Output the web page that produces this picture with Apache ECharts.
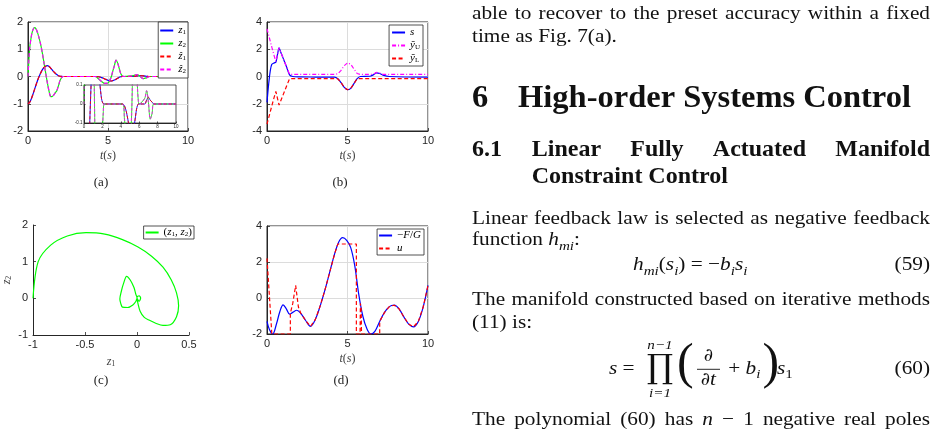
<!DOCTYPE html>
<html>
<head>
<meta charset="utf-8">
<script src="https://cdn.jsdelivr.net/npm/echarts@6/dist/echarts.min.js"></script>
<style>
  html, body { margin: 0; padding: 0; background: #fff; }
  #fig { width: 937px; height: 429px; }
</style>
</head>
<body>
<div id="fig"></div>
<script>
// (a) / (c): states z1, z2 (estimates overlap them)
const tA = [0, 0.1, 0.2, 0.3, 0.4, 0.5, 0.6, 0.7, 0.8, 0.9, 1.0, 1.1, 1.2, 1.3, 1.4, 1.5, 1.6, 1.7, 1.8, 1.9, 2.0, 2.1, 2.2,
  4.2, 4.4, 4.6, 4.8, 5.0, 5.1, 5.2, 5.3, 5.4, 5.5, 5.6, 5.7, 5.8, 5.9, 6.0, 6.6, 6.8, 7.0, 7.2, 7.4, 7.6, 10];
const z1 = [-1, -0.95, -0.83, -0.67, -0.49, -0.31, -0.14, 0.01, 0.14, 0.25, 0.33, 0.38, 0.40, 0.38, 0.32, 0.25, 0.18, 0.12, 0.07, 0.03, 0.01, 0.002, 0,
  0, -0.01, -0.04, -0.09, -0.14, -0.155, -0.165, -0.15, -0.13, -0.1, -0.065, -0.03, -0.01, 0, 0, 0, 0.02, 0.035, 0.02, 0.01, 0, 0];
const z2 = [0, 1.0, 1.45, 1.7, 1.79, 1.75, 1.6, 1.4, 1.15, 0.85, 0.5, 0.15, -0.2, -0.5, -0.72, -0.74, -0.68, -0.6, -0.52, -0.35, -0.15, -0.04, 0,
  0, -0.08, -0.18, -0.25, -0.24, -0.15, -0.02, 0.2, 0.4, 0.6, 0.5, 0.3, 0.1, 0.02, 0, 0.03, 0.07, 0.01, -0.08, -0.05, 0, 0];

// (b): s and its bounds
const tB = [0, 0.1, 0.2, 0.3, 0.45, 0.55, 0.65, 0.75, 0.85, 1.0, 1.2, 1.4, 1.6, 2.0, 3.0, 4.2, 4.4, 4.6, 4.8, 5.0, 5.2, 5.4, 5.6, 5.8, 6.4, 6.6, 6.8, 7.0, 7.2, 7.6, 10];
const sB = [-1.9, -0.6, 0.4, 0.9, 1.0, 1.05, 1.6, 2.1, 1.8, 1.35, 0.75, 0.12, 0.0, -0.03, -0.04, -0.05, -0.17, -0.45, -0.8, -0.97, -0.87, -0.52, -0.16, 0.0, 0.02, 0.12, 0.27, 0.22, 0.1, 0.0, -0.04];
const yU = [3.5, 3.05, 2.6, 2.15, 1.5, 1.1, 1.6, 2.1, 1.8, 1.35, 0.75, 0.16, 0.15, 0.15, 0.15, 0.15, 0.2, 0.45, 0.8, 1.0, 0.9, 0.55, 0.22, 0.15, 0.15, 0.18, 0.3, 0.25, 0.16, 0.15, 0.15];
const yL = [-3.5, -3.05, -2.6, -2.15, -1.5, -1.1, -1.6, -2.1, -1.8, -1.35, -0.75, -0.16, -0.15, -0.15, -0.15, -0.15, -0.17, -0.45, -0.8, -0.97, -0.87, -0.52, -0.16, -0.15, -0.15, -0.15, -0.15, -0.15, -0.15, -0.15, -0.15];

// (d): -F/G and control u
const tD = [0, 0.15, 0.35, 0.6, 0.8, 1.0, 1.2, 1.4, 1.6, 1.85, 2.1, 2.4, 2.7, 3.0, 3.3, 3.6, 3.9, 4.2, 4.45, 4.7,
  4.95, 5.2, 5.45, 5.7, 5.95, 6.2, 6.45, 6.7, 7.0, 7.3, 7.6, 7.9, 8.2, 8.5, 8.8, 9.1, 9.4, 9.7, 10];
const fg = [-1.3, -1.75, -2.0, -1.4, -0.75, -0.38, -0.6, -0.9, -0.8, -0.68, -0.85, -1.25, -1.58, -1.2, -0.45, 0.45, 1.45, 2.45, 3.1, 3.35,
  3.2, 2.8, 1.8, 0.2, -1.0, -1.7, -2.0, -1.85, -1.3, -0.8, -0.48, -0.4, -0.6, -1.05, -1.45, -1.6, -1.3, -0.5, 0.7];
const uT = [0, 0.3, 1.45, 1.45, 1.6, 1.78, 1.95, 2.1, 2.4, 2.7, 3.0, 3.3, 3.6, 3.9, 4.2, 4.4, 5.55, 5.55, 5.78, 5.8,
  5.85, 5.87, 7.0, 7.0, 7.3, 7.6, 7.9, 8.2, 8.5, 8.8, 9.1, 9.4, 9.7, 10];
const uV = [2.2, -2.0, -2.0, -0.85, -0.3, 0.7, -0.5, -0.85, -1.25, -1.58, -1.2, -0.45, 0.45, 1.45, 2.45, 3.0, 3.0, -2.0, -2.0, -0.3,
  -0.6, -2.0, -2.0, -1.3, -0.8, -0.48, -0.4, -0.6, -1.05, -1.45, -1.6, -1.3, -0.5, 0.7];

const BLUE = '#0000ff', GREEN = '#00ff00', RED = '#ff0000', MAG = '#ff00ff', INK = '#262626';
const SERIF = '"Liberation Serif", "DejaVu Serif", serif';

const pairs = (xs, ys) => xs.map((x, i) => [x, ys[i]]);

function line(name, ax, data, color, type, extra) {
  return Object.assign({
    name, type: 'line', xAxisIndex: ax, yAxisIndex: ax, data, symbol: 'none', z: 3,
    lineStyle: { color, width: 1.2, type }, itemStyle: { color }
  }, extra || {});
}

const mathRich = {
  i: { fontFamily: SERIF, fontStyle: 'italic', fontSize: 11, lineHeight: 11, color: '#000' },
  r: { fontFamily: SERIF, fontSize: 11, lineHeight: 11, color: '#000' },
  b: { fontFamily: SERIF, fontSize: 7, lineHeight: 4, verticalAlign: 'bottom', color: '#000' }
};
const nameRich = {
  i: { fontFamily: SERIF, fontStyle: 'italic', fontSize: 12, color: '#404040' },
  r: { fontFamily: SERIF, fontSize: 12, color: '#404040' },
  b: { fontFamily: SERIF, fontSize: 8, lineHeight: 5, verticalAlign: 'bottom', color: '#404040' }
};
const labels = {
  z1: '{i|z}{b|1}', z2: '{i|z}{b|2}', zh1: '{i|ẑ}{b|1}', zh2: '{i|ẑ}{b|2}',
  s: '{i|s}', yU: '{i|ỹ}{b|U}', yL: '{i|ỹ}{b|L}',
  ph: '{r|(}{i|z}{b|1}{r|, }{i|z}{b|2}{r|)}', fg: '{r|−}{i|F}{r|/}{i|G}', u: '{i|u}'
};

function axis(grid, min, max, interval, opt) {
  opt = opt || {};
  return {
    type: 'value', gridIndex: grid, min, max, interval, z: opt.z,
    axisLine: { show: true, onZero: false, lineStyle: { color: INK, width: 1 } },
    axisTick: { show: true, inside: true, length: opt.tick || 3, lineStyle: { color: INK, width: 0.8 } },
    axisLabel: { color: INK, fontSize: opt.fs || 11, fontFamily: 'Liberation Sans, Arial, sans-serif', margin: opt.margin || 4 },
    splitLine: { show: !!opt.split, lineStyle: { color: '#dcdcdc', width: 1 } },
    name: opt.name, nameLocation: 'middle', nameGap: opt.gap, nameTextStyle: { rich: nameRich }
  };
}
const tName = '{i|t}{r|(}{i|s}{r|)}';

function legend(names, right, top, lh, gap, pad) {
  return {
    data: names, orient: 'vertical', right, top, z: 10,
    itemWidth: 13, itemHeight: 8, itemGap: gap, padding: pad,
    itemStyle: { opacity: 0 },
    backgroundColor: '#fff', borderColor: INK, borderWidth: 0.8, borderRadius: 0,
    formatter: n => labels[n],
    textStyle: { rich: Object.assign({}, mathRich, { i: Object.assign({}, mathRich.i, { lineHeight: lh }) }) }
  };
}

// --- text column on the right ---
const ctx = document.createElement('canvas').getContext('2d');
const SX = 1.12;
const mw = (s, f, sx) => { ctx.font = f; return ctx.measureText(s).width * (sx || SX); };
const fBody = '19px ' + SERIF, fIt = 'italic 19px ' + SERIF, fSub = 'italic 13.5px ' + SERIF, fSubR = '13.5px ' + SERIF;
const g = [];

function piece(x, base, s, f, align, sx) {
  const size = parseFloat(f.match(/([\d.]+)px/)[1]);
  g.push({ type: 'text', x, y: base - 0.34 * size, scaleX: sx || SX, silent: true,
    style: { text: s, font: f, fill: '#111', textAlign: align || 'left', verticalAlign: 'middle' } });
}
function run(pieces, x, base, sx) {
  pieces.forEach(p => {
    piece(x, base + (p[2] || 0), p[0], p[1], 'left', sx);
    x += mw(p[0], p[1], sx);
  });
  return x;
}
function wordW(wd, f, sx) { return typeof wd === 'string' ? mw(wd, f, sx) : wd.reduce((a, p) => a + mw(p[0], p[1], sx), 0); }
function justify(words, x0, x1, base, f, sx) {
  f = f || fBody;
  const ws = words.map(wd => wordW(wd, f, sx));
  const gap = (x1 - x0 - ws.reduce((a, b) => a + b, 0)) / (words.length - 1);
  let x = x0;
  words.forEach((wd, i) => { run(typeof wd === 'string' ? [[wd, f]] : wd, x, base, sx); x += ws[i] + gap; });
}

const L = 472, R = 930;
const fH1 = 'bold 32.5px ' + SERIF, fH2 = 'bold 24px ' + SERIF;
justify('able to recover to the preset accuracy within a fixed'.split(' '), L, R, 20);
run([['time as Fig. 7(a).', fBody]], L, 43.3);
run([['6', fH1]], L, 110, 1);
run([['High-order Systems Control', fH1]], 518, 110, 1);
run([['6.1', fH2]], L, 158.3, 1);
justify(['Linear', 'Fully', 'Actuated', 'Manifold'], 531.7, R, 158.3, fH2, 1);
run([['Constraint Control', fH2]], 531.7, 185, 1);
justify('Linear feedback law is selected as negative feedback'.split(' '), L, R, 225);
run([['function ', fBody], ['h', fIt], ['mi', fSub, 4], [':', fBody]], L, 246.7);
run([['h', fIt], ['mi', fSub, 4], ['(', fBody], ['s', fIt], ['i', fSub, 4], [')', fBody], [' = ', fBody], ['−', fBody],
  ['b', fIt], ['i', fSub, 4], ['s', fIt], ['i', fSub, 4]], 633, 271.7);
piece(R, 271.7, '(59)', fBody, 'right');
justify('The manifold constructed based on iterative methods'.split(' '), L, R, 306.7);
run([['(11) is:', fBody]], L, 329);
// equation (60)
run([['s', fIt], [' = ', fBody]], 609, 375);
piece(660, 381, '∏', '33px "DejaVu Serif"', 'center', 1);
piece(660, 350, 'n−1', fSub, 'center');
piece(660, 398, 'i=1', fSub, 'center');
piece(677, 382, '(', '50px ' + SERIF, 'left', 1);
piece(708.3, 362, '∂', '18px "DejaVu Serif"', 'center', 1);
g.push({ type: 'line', silent: true, shape: { x1: 697, y1: 369.3, x2: 720, y2: 369.3 }, style: { stroke: '#111', lineWidth: 0.9 } });
(function () {
  const f = '18px "DejaVu Serif"';
  const w1 = mw('∂', f, 1), w2 = mw('t', fIt);
  piece(708.3 - (w1 + w2) / 2, 386.5, '∂', f, 'left', 1);
  piece(708.3 - (w1 + w2) / 2 + w1, 386.5, 't', fIt, 'left');
})();
run([['+ ', fBody], ['b', fIt], ['i', fSub, 4]], 728.3, 375);
piece(762.5, 382, ')', '50px ' + SERIF, 'left', 1);
run([['s', fIt], ['1', fSubR, 4]], 777, 375);
piece(R, 375, '(60)', fBody, 'right');
justify(['The', 'polynomial', '(60)', 'has', [['n', fIt]], '−', '1', 'negative', 'real', 'poles'], L, R, 426.7);

// captions
[['(a)', 101, 183], ['(b)', 340, 183], ['(c)', 101, 381], ['(d)', 341, 381]].forEach(c => {
  g.push({ type: 'text', x: c[1], y: c[2], silent: true,
    style: { text: c[0], font: '13px ' + SERIF, fill: '#222', textAlign: 'center', verticalAlign: 'middle' } });
});

const option = {
  animation: false,
  backgroundColor: '#fff',
  textStyle: { fontFamily: 'Liberation Sans, Arial, sans-serif' },
  grid: [
    { left: 28, top: 22, width: 160, height: 109, show: true, borderColor: INK, borderWidth: 1, backgroundColor: 'transparent' },
    { left: 84, top: 85, width: 92, height: 38, show: true, borderColor: INK, borderWidth: 0.8, backgroundColor: '#fff', z: 6 },
    { left: 267, top: 22, width: 161, height: 109, show: true, borderColor: INK, borderWidth: 1, backgroundColor: 'transparent' },
    { left: 32, top: 225, width: 157, height: 110, show: false },
    { left: 267, top: 226, width: 161, height: 108, show: true, borderColor: INK, borderWidth: 1, backgroundColor: 'transparent' }
  ],
  xAxis: [
    axis(0, 0, 10, 5, { split: true, name: tName, gap: 19 }),
    axis(1, 0, 10, 2, { fs: 4.5, tick: 1.5, margin: 1.5, z: 7 }),
    axis(2, 0, 10, 5, { split: true, name: tName, gap: 19 }),
    axis(3, -1, 0.5, 0.5, { name: '{i|z}{b|1}', gap: 21 }),
    axis(4, 0, 10, 5, { split: true, name: tName, gap: 19 })
  ],
  yAxis: [
    axis(0, -2, 2, 1, { split: true, margin: 5 }),
    axis(1, -0.1, 0.1, 0.1, { fs: 4.5, tick: 1.5, margin: 1.5, z: 7 }),
    axis(2, -4, 4, 2, { split: true, margin: 5 }),
    axis(3, -1, 2, 1, { margin: 5, name: '{i|z}{b|2}', gap: 20 }),
    axis(4, -2, 4, 2, { split: true, margin: 5 })
  ],
  legend: [
    legend(['z1', 'z2', 'zh1', 'zh2'], 749, 22, 10, 2, [3, 2, 3, 1]),
    legend(['s', 'yU', 'yL'], 514, 25, 10, 2, [2, 3, 2, 2]),
    legend(['ph'], 743, 226, 10, 0, [1, 2, 1, 1]),
    legend(['fg', 'u'], 513, 229, 12, 2, [1, 3, 1, 1])
  ],
  graphic: { elements: g },
  series: [
    line('z1', 0, pairs(tA, z1), BLUE, 'solid', { smooth: 0.3 }),
    line('z2', 0, pairs(tA, z2), GREEN, 'solid', { smooth: 0.3 }),
    line('zh1', 0, pairs(tA, z1), RED, [4, 2.5], { smooth: 0.3 }),
    line('zh2', 0, pairs(tA, z2), MAG, [4, 2.5], { smooth: 0.3 }),
    line('z1 inset', 1, pairs(tA, z1), BLUE, 'solid', { smooth: 0.3, z: 8, lineStyle: { color: BLUE, width: 0.9 } }),
    line('z2 inset', 1, pairs(tA, z2), GREEN, 'solid', { smooth: 0.3, z: 8, lineStyle: { color: GREEN, width: 0.9 } }),
    line('zh1 inset', 1, pairs(tA, z1), RED, 'dashed', { smooth: 0.3, z: 8, lineStyle: { color: RED, width: 0.9, type: [3, 2] } }),
    line('zh2 inset', 1, pairs(tA, z2), MAG, 'dashed', { smooth: 0.3, z: 8, lineStyle: { color: MAG, width: 0.9, type: [3, 2] } }),
    line('s', 2, pairs(tB, sB), BLUE, 'solid', { smooth: 0.3 }),
    line('yU', 2, pairs(tB, yU), MAG, [4, 2, 1, 2]),
    line('yL', 2, pairs(tB, yL), RED, [4, 2.5]),
    line('ph', 3, pairs(z1, z2), GREEN, 'solid', { smooth: 0.3 }),
    line('fg', 4, pairs(tD, fg), BLUE, 'solid', { smooth: 0.35 }),
    line('u', 4, pairs(uT, uV), RED, [4, 2.5])
  ]
};

const chart = echarts.init(document.getElementById('fig'));
chart.setOption(option);
</script>
</body>
</html>
